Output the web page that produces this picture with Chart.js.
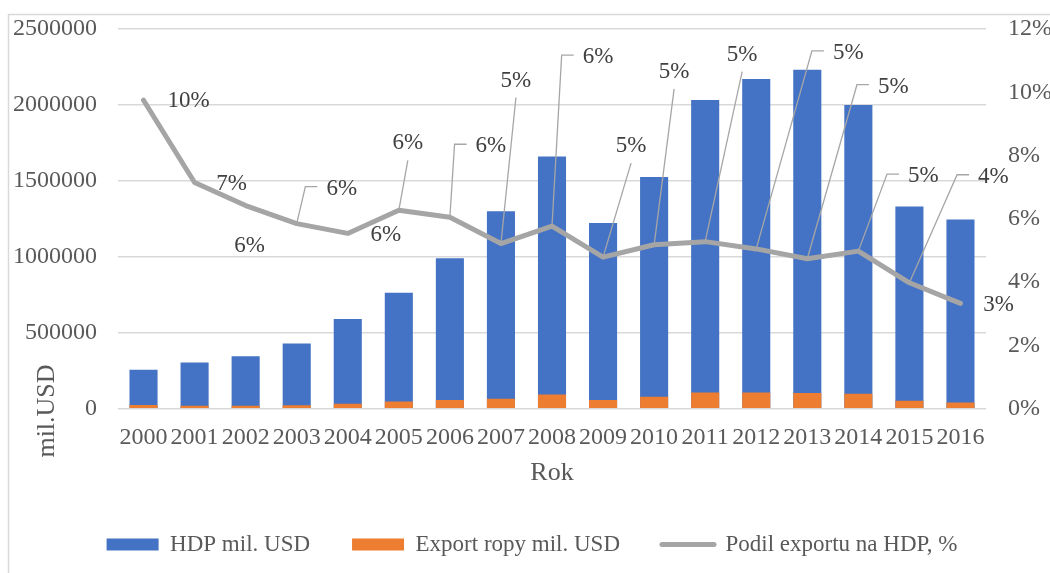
<!DOCTYPE html>
<html>
<head>
<meta charset="utf-8">
<script src="https://cdn.jsdelivr.net/npm/chart.js@4/dist/chart.umd.min.js"></script>
<style>
  html, body { margin: 0; padding: 0; background: #fff; overflow: hidden; }
</style>
</head>
<body>
<canvas id="chart" width="1050" height="573"></canvas>
<script>
// data
const years = ["2000", "2001", "2002", "2003", "2004", "2005", "2006", "2007", "2008",
  "2009", "2010", "2011", "2012", "2013", "2014", "2015", "2016"];
const hdp = [257000, 304000, 345000, 430000, 591000, 764000, 990000, 1300000, 1661000,
  1223000, 1525000, 2032000, 2170000, 2231000, 2000000, 1331000, 1246000];
const exportRopy = [24000, 19000, 19000, 23000, 33000, 47000, 58000, 66000, 94000,
  58000, 78000, 106000, 107000, 104000, 99000, 52000, 40000];
const podil = [9.75, 7.15, 6.42, 5.85, 5.54, 6.27, 6.05, 5.22, 5.77,
  4.79, 5.18, 5.28, 5.05, 4.74, 4.98, 3.98, 3.33];

// where each % label sits relative to its point: [dx, dy, leader kind]
const labelPlacement = [
  [45, 1, ""], [37, 1, ""], [4, 40, ""], [45, -35, "h"], [38, 2, ""], [9, -67, "b"],
  [41, -71, "h"], [15, -163, "b"], [46, -169, "h"], [28, -111, "b"], [20, -173, "b"],
  [37, -187, "b"], [92, -196, "h"], [86, -172, "h"], [65, -75, "h"], [84, -106, "h"], [38, 2, ""]
];

const SERIF = "'Liberation Serif', 'Times New Roman', serif";
const TXT = "#595959";

// white background + light frame round the chart
const frame = {
  id: "frame",
  beforeDraw(chart) {
    const ctx = chart.ctx;
    ctx.save();
    ctx.fillStyle = "#fff";
    ctx.fillRect(0, 0, chart.width, chart.height);
    ctx.strokeStyle = "#d9d9d9";
    ctx.lineWidth = 1.5;
    ctx.strokeRect(8.5, 14.5, 1200, 800);
    ctx.restore();
  }
};

// y title sits lower than the axis middle in the original
const yTitle = {
  id: "yTitle",
  afterDraw(chart) {
    const ctx = chart.ctx;
    ctx.save();
    ctx.translate(47, 411);
    ctx.rotate(-Math.PI / 2);
    ctx.font = "26px " + SERIF;
    ctx.fillStyle = TXT;
    ctx.textAlign = "center";
    ctx.textBaseline = "middle";
    ctx.fillText("mil.USD", 0, 0);
    ctx.restore();
  }
};

// percentage labels with excel-like leader lines
const pctLabels = {
  id: "pctLabels",
  afterDatasetsDraw(chart) {
    const meta = chart.getDatasetMeta(2);
    const ctx = chart.ctx;
    ctx.save();
    ctx.font = "23px " + SERIF;
    ctx.textAlign = "center";
    ctx.textBaseline = "middle";
    meta.data.forEach((pt, i) => {
      const [dx, dy, kind] = labelPlacement[i];
      const text = Math.round(podil[i]) + "%";
      const lx = pt.x + dx, ly = pt.y + dy;
      const w = ctx.measureText(text).width;
      if (kind) {
        ctx.strokeStyle = "#a6a6a6";
        ctx.lineWidth = 1.3;
        ctx.beginPath();
        ctx.moveTo(pt.x, pt.y);
        if (kind === "h") {
          const left = lx - w / 2;
          ctx.lineTo(left - 21, ly - 2);
          ctx.lineTo(left - 9, ly - 2);
        } else {
          ctx.lineTo(lx, ly + 17);
        }
        ctx.stroke();
      }
      ctx.fillStyle = "#404040";
      ctx.fillText(text, lx, ly);
    });
    ctx.restore();
  }
};

// y axes: fixed width, no extra label padding above/below the plot
function fixY(width) {
  return function (scale) {
    scale.width = width;
    scale.paddingTop = 0;
    scale.paddingBottom = 0;
  };
}

new Chart(document.getElementById("chart"), {
  type: "bar",
  data: {
    labels: years,
    datasets: [
      {
        label: "HDP mil. USD",
        data: hdp,
        backgroundColor: "#4472c4",
        yAxisID: "y",
        grouped: false,
        order: 2
      },
      {
        label: "Export ropy mil. USD",
        data: exportRopy,
        backgroundColor: "#ed7d31",
        yAxisID: "y",
        grouped: false,
        order: 1
      },
      {
        type: "line",
        label: "Podil exportu na HDP, %",
        data: podil,
        borderColor: "#a5a5a5",
        backgroundColor: "#a5a5a5",
        borderWidth: 5,
        borderCapStyle: "round",
        borderJoinStyle: "round",
        pointRadius: 0,
        tension: 0,
        yAxisID: "y1",
        order: 0
      }
    ]
  },
  options: {
    responsive: false,
    animation: false,
    devicePixelRatio: 1,
    datasets: {
      bar: { categoryPercentage: 1, barPercentage: 0.55 }
    },
    layout: { padding: { top: 29, left: 14, right: 0, bottom: 7 } },
    scales: {
      x: {
        grid: { display: false },
        border: { display: false },
        ticks: {
          color: TXT,
          font: { family: SERIF, size: 24 },
          padding: 7,
          maxRotation: 0,
          autoSkip: false
        },
        title: {
          display: true,
          text: "Rok",
          color: TXT,
          font: { family: SERIF, size: 26 },
          padding: { top: 0, bottom: 2 }
        },
        afterFit(scale) { scale.height = 82.3; }
      },
      y: {
        position: "left",
        min: 0,
        max: 2500000,
        border: { display: false },
        grid: { color: "#d9d9d9", lineWidth: 1.5, drawTicks: false },
        ticks: {
          stepSize: 500000,
          color: TXT,
          font: { family: SERIF, size: 24 },
          padding: 21,
          callback: (v) => String(v)
        },
        afterFit: fixY(104)
      },
      y1: {
        position: "right",
        min: 0,
        max: 12,
        border: { display: false },
        grid: { drawOnChartArea: false, drawTicks: false },
        ticks: {
          stepSize: 2,
          color: TXT,
          font: { family: SERIF, size: 24 },
          padding: 22,
          callback: (v) => v + "%"
        },
        afterFit: fixY(64)
      }
    },
    plugins: {
      tooltip: { enabled: false },
      legend: {
        position: "bottom",
        labels: {
          color: TXT,
          font: { family: SERIF, size: 23 },
          usePointStyle: true,
          pointStyleWidth: 52,
          boxHeight: 12,
          padding: 42,
          sort: (a, b) => a.datasetIndex - b.datasetIndex,
          generateLabels(chart) {
            return chart.data.datasets.map((ds, i) => {
              const isLine = ds.type === "line";
              return {
                text: ds.label,
                datasetIndex: i,
                fillStyle: ds.backgroundColor,
                strokeStyle: ds.borderColor || ds.backgroundColor,
                lineWidth: isLine ? 5 : 0,
                lineCap: "round",
                pointStyle: isLine ? "line" : "rect",
                fontColor: TXT,
                hidden: false
              };
            });
          }
        }
      }
    }
  },
  plugins: [frame, yTitle, pctLabels]
});
</script>
</body>
</html>
